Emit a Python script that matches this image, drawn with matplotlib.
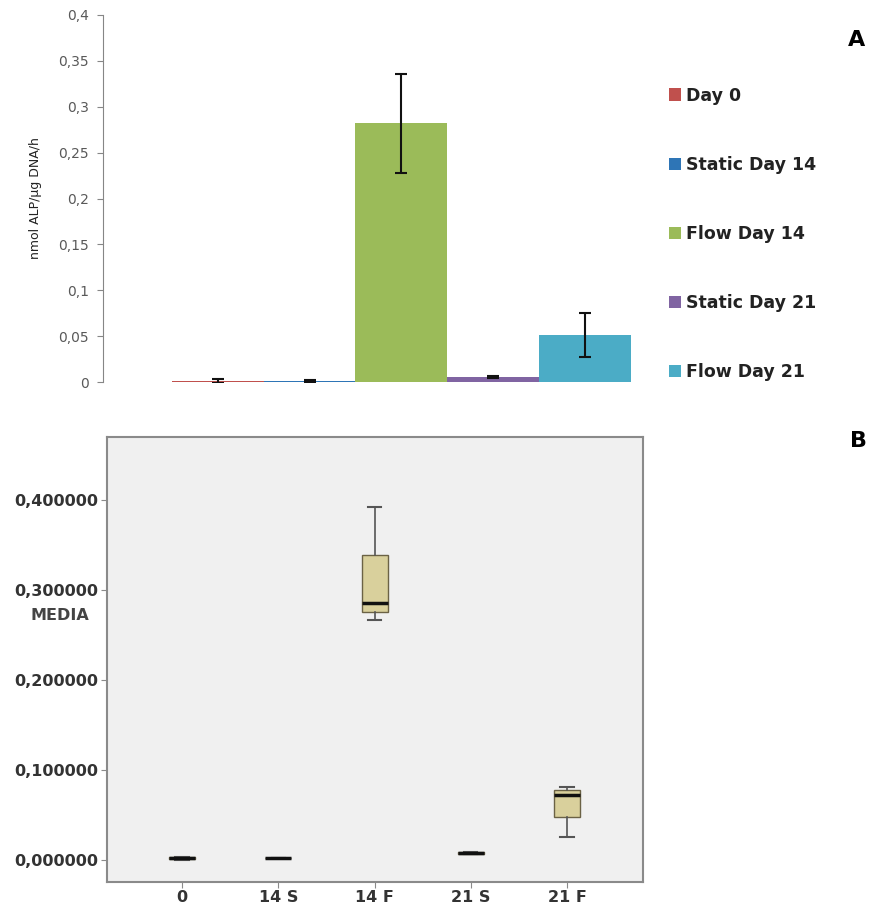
import matplotlib
matplotlib.use("Agg")
import matplotlib.pyplot as plt
import numpy as np

# ---- Panel A data ----
groups = ["Day 0", "Static Day 14", "Flow Day 14", "Static Day 21", "Flow Day 21"]
means = [0.001, 0.001, 0.282, 0.005, 0.051]
errors = [0.002, 0.001, 0.054, 0.001, 0.024]
bar_colors = ["#c0504d", "#2e75b6", "#9bbb59", "#8064a2", "#4bacc6"]
yticks_a = [0, 0.05, 0.1, 0.15, 0.2, 0.25, 0.3, 0.35, 0.4]
yticklabels_a = ["0", "0,05", "0,1", "0,15", "0,2", "0,25", "0,3", "0,35", "0,4"]

# ---- Panel B data (box plot summaries) ----
box_labels = ["0", "14 S", "14 F", "21 S", "21 F"]
whislo = [0.0005, 0.0018, 0.267, 0.0068, 0.026]
q1 = [0.001, 0.0019, 0.276, 0.0072, 0.048]
med = [0.002, 0.002, 0.286, 0.0078, 0.072]
q3 = [0.003, 0.0021, 0.339, 0.0085, 0.078]
whishi = [0.0035, 0.0022, 0.392, 0.009, 0.081]
yticks_b = [0.0, 0.1, 0.2, 0.3, 0.4]
yticklabels_b = ["0,000000", "0,100000", "0,200000", "0,300000", "0,400000"]

W, H = 873, 915
fig = plt.figure(figsize=(W / 100, H / 100), dpi=100)
fig.patch.set_facecolor("white")

# ---------- Panel A ----------
axA = fig.add_axes([103 / W, 1 - 382 / H, 537 / W, 367 / H])
x = np.arange(len(groups))
bars = axA.bar(x, means, width=1.0, color=bar_colors, edgecolor="none",
               yerr=errors, capsize=4,
               error_kw=dict(ecolor="#111111", elinewidth=1.5, capthick=1.5))
axA.set_xlim(-1.25, 4.6)
axA.set_ylim(0, 0.4)
axA.set_yticks(yticks_a)
axA.set_yticklabels(yticklabels_a, fontsize=10, color="#595959")
axA.set_xticks([])
for s in ["top", "right", "bottom"]:
    axA.spines[s].set_visible(False)
axA.spines["left"].set_color("#868686")
axA.tick_params(axis="y", length=4, color="#868686", pad=6)
axA.set_ylabel("nmol ALP/μg DNA/h", fontsize=9, color="#222222", labelpad=12)

leg = axA.legend(bars, groups, loc="upper left", bbox_to_anchor=(653 / W, 1 - 71 / H),
                 bbox_transform=fig.transFigure, frameon=False,
                 handlelength=0.7, handleheight=0.7, handletextpad=0.3,
                 labelspacing=2.95, prop=dict(weight="bold", size=12.5))
for t in leg.get_texts():
    t.set_color("#222222")

fig.text(857 / W, 1 - 40 / H, "A", fontsize=16, fontweight="bold", ha="center", va="center")

# ---------- Panel B ----------
axB = fig.add_axes([107 / W, 1 - 882 / H, 536 / W, 445 / H])
axB.set_facecolor("#f0f0f0")
stats = []
for i, lab in enumerate(box_labels):
    stats.append(dict(label=lab, whislo=whislo[i], q1=q1[i], med=med[i],
                      q3=q3[i], whishi=whishi[i], fliers=[]))
pos = np.arange(len(box_labels))
axB.bxp(stats, positions=pos, widths=0.27, patch_artist=True, showfliers=False,
        boxprops=dict(facecolor="#d9d09c", edgecolor="#6b6245", linewidth=1.0),
        medianprops=dict(color="#111111", linewidth=2.5),
        whiskerprops=dict(color="#555555", linewidth=1.2),
        capprops=dict(color="#555555", linewidth=1.5), capwidths=0.14)
axB.set_xlim(-0.78, 4.79)
axB.set_ylim(-0.0244, 0.47)
axB.set_yticks(yticks_b)
axB.set_yticklabels(yticklabels_b, fontsize=11.5, fontweight="bold", color="#333333")
axB.set_xticks(pos)
axB.set_xticklabels(box_labels, fontsize=11.5, fontweight="bold", color="#333333")
for s in axB.spines.values():
    s.set_color("#8a8a8a")
    s.set_linewidth(1.5)
axB.tick_params(axis="both", length=4, color="#8a8a8a", pad=2)

fig.text(60 / W, 1 - 615 / H, "MEDIA", fontsize=11.5, fontweight="bold",
         color="#444444", ha="center", va="center")
fig.text(858 / W, 1 - 441 / H, "B", fontsize=16, fontweight="bold", ha="center", va="center")

fig.savefig("out.png", dpi=100)
